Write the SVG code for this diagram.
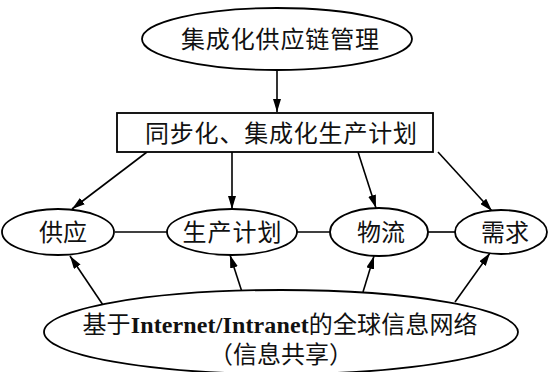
<svg xmlns="http://www.w3.org/2000/svg" width="550" height="372" viewBox="0 0 550 372">
<defs>
<marker id="ah" markerUnits="userSpaceOnUse" markerWidth="14" markerHeight="8" refX="13" refY="4" orient="auto">
<path d="M0,0 L13,4 L0,8 Z" fill="#000"/>
</marker>
<style>
.shape{fill:#fff;stroke:#000;stroke-width:1.8}
.t{font-family:"Liberation Serif","Noto Sans CJK SC",serif;font-size:24px;fill:#111;text-anchor:middle}
.c{stroke:#000;stroke-width:1.6;fill:none}
.a{stroke:#000;stroke-width:1.6;fill:none;marker-end:url(#ah)}
</style>
</defs>
<rect width="550" height="372" fill="#fff"/>
<g id="connectors">
<line class="a" x1="277" y1="70" x2="277" y2="112"/>
<line class="a" x1="147" y1="152" x2="72" y2="209"/>
<line class="a" x1="232" y1="152" x2="232" y2="209"/>
<line class="a" x1="358" y1="152" x2="376" y2="208"/>
<line class="a" x1="438" y1="152" x2="492" y2="211"/>
<line class="c" x1="115" y1="232" x2="167" y2="232"/>
<line class="c" x1="297" y1="232" x2="330" y2="232"/>
<line class="c" x1="428" y1="232" x2="455" y2="232"/>
<line class="a" x1="103" y1="305" x2="70" y2="256"/>
<line class="a" x1="242" y1="292" x2="230" y2="255"/>
<line class="a" x1="363" y1="292" x2="374" y2="256"/>
<line class="a" x1="455" y1="302" x2="490" y2="253"/>
</g>
<g id="scm">
<ellipse class="shape" cx="277" cy="39" rx="135" ry="31"/>
<text class="t" x="280" y="48" textLength="198" lengthAdjust="spacing">集成化供应链管理</text>
</g>
<g id="plan">
<rect class="shape" x="117" y="113" width="316" height="39"/>
<text class="t" x="281" y="142" textLength="272" lengthAdjust="spacing">同步化、集成化生产计划</text>
</g>
<g id="supply">
<ellipse class="shape" cx="58" cy="232" rx="56" ry="23"/>
<text class="t" x="63" y="241">供应</text>
</g>
<g id="production">
<ellipse class="shape" cx="232" cy="232" rx="65" ry="23"/>
<text class="t" x="232" y="241" textLength="99" lengthAdjust="spacing">生产计划</text>
</g>
<g id="logistics">
<ellipse class="shape" cx="379" cy="232" rx="49" ry="24"/>
<text class="t" x="381" y="241">物流</text>
</g>
<g id="demand">
<ellipse class="shape" cx="501" cy="232" rx="46" ry="22"/>
<text class="t" x="505" y="241">需求</text>
</g>
<g id="network">
<ellipse class="shape" cx="281" cy="332" rx="237" ry="42"/>
<text class="t" x="280" y="333" textLength="395" lengthAdjust="spacing">基于<tspan font-weight="bold">Internet/Intranet</tspan>的全球信息网络</text>
<text class="t" x="281" y="363">（信息共享）</text>
</g>
</svg>
